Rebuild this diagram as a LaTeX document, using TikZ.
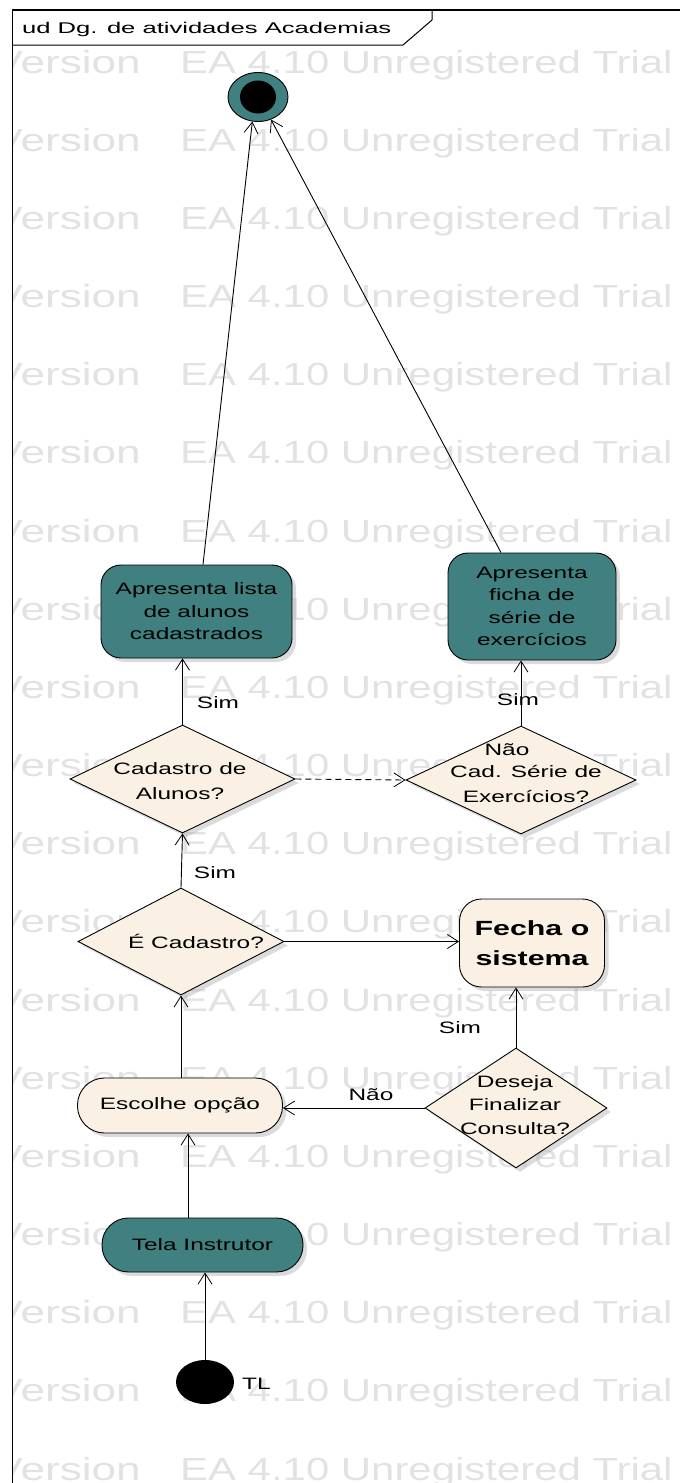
\documentclass[tikz,border=0pt]{standalone}
\usepackage{fontspec}
\usetikzlibrary{shapes.geometric,arrows.meta,shadows,calc}
\newfontfamily\eafont[FakeStretch=1.48]{Liberation Sans}
\newfontfamily\titlefont[FakeStretch=1.65]{Liberation Sans}
\newfontfamily\wmfontA[FakeStretch=1.38]{Liberation Sans}
\newfontfamily\wmfontB[FakeStretch=1.31]{Liberation Sans}
\definecolor{eateal}{RGB}{64,128,128}
\definecolor{eabeige}{RGB}{250,240,228}
\definecolor{wmgray}{RGB}{226,226,226}
\tikzset{
  txt/.style={font={\eafont\fontsize{16.5}{22.5}\selectfont}, align=center, inner sep=0pt},
  shad/.style={drop shadow={shadow xshift=4pt, shadow yshift=-4pt, fill=black!28}},
  act/.style={draw=black, line width=0.9pt, rounded corners=20pt, inner sep=0pt, shad, txt},
  tealact/.style={act, fill=eateal},
  beigeact/.style={act, fill=eabeige},
  decis/.style={diamond, draw=black, line width=0.9pt, fill=eabeige, inner sep=0pt, shad},
  flow/.style={draw=black, line width=0.9pt, -{Straight Barb[length=11pt,width=14pt,line width=0.8pt]}},
  wmA/.style={font={\wmfontA\fontsize{32}{32}\selectfont}, text=wmgray, inner sep=0pt},
  wmB/.style={font={\wmfontB\fontsize{32}{32}\selectfont}, text=wmgray, inner sep=0pt}
}
\begin{document}
\begin{tikzpicture}[x=1pt,y=-1pt]
\useasboundingbox (0,0) rectangle (680,1483);
% watermark
\begin{scope}
\clip (13.5,10.8) rectangle (680,1483);
\foreach \k in {0,...,18} {
  \node[wmA, anchor=base east] (wva\k) at (141,{73+78.17*\k}) {Version};
  \node[wmB, anchor=base west] (wvb\k) at (180,{73+78.17*\k}) {EA 4.10 Unregistered Trial};
}
\end{scope}
% frame
\draw[line width=1.5pt] (12.5,1483) -- (12.5,10) -- (680,10);
\draw[line width=1pt] (12.5,45) -- (403,45) -- (432,20) -- (432,10);
\node[anchor=base west, inner sep=0pt, font={\titlefont\fontsize{15.5}{18}\selectfont}] (title) at (22,33) {ud Dg. de atividades Academias};
% final node
\node[ellipse, draw=black, line width=0.9pt, fill=eateal, minimum width=60pt, minimum height=49pt, inner sep=0pt] (fin) at (258,97) {};
\node[ellipse, fill=black, minimum width=36pt, minimum height=33pt, inner sep=0pt] (fininner) at (fin.center) {};
% activities
\node[tealact, minimum width=191pt, minimum height=93pt] (b1) at (196.5,611.5) {Apresenta lista\\de alunos\\cadastrados};
\node[tealact, minimum width=168pt, minimum height=107pt] (b2) at (532,606.5) {Apresenta\\ficha de\\série de\\exercícios};
\node[beigeact, minimum width=145pt, minimum height=88pt, rounded corners=22pt, font={\eafont\bfseries\fontsize{20.5}{30}\selectfont}] (f) at (532,943) {Fecha o\\sistema};
\node[beigeact, minimum width=205pt, minimum height=55pt, rounded corners=27pt] (e) at (180,1105.5) {Escolhe opção};
\node[tealact, minimum width=201pt, minimum height=54pt, rounded corners=26.5pt] (t) at (202.5,1245) {Tela Instrutor};
% decisions
\node[decis, minimum width=225pt, minimum height=108pt] (d1) at (182.5,779) {};
\node[txt] (d1t) at (180,781.5) {Cadastro de\\[2.5pt]Alunos?};
\node[decis, minimum width=230pt, minimum height=108pt] (d2) at (521,780) {};
\node[txt] (d2t) at (526,783.5) {Cad. Série de\\[2.5pt]Exercícios?};
\node[decis, minimum width=206pt, minimum height=107pt] (d3) at (181,941.5) {};
\node[txt] (d3t) at (196,941) {É Cadastro?};
\node[decis, minimum width=182pt, minimum height=120pt] (d4) at (516,1108) {};
\node[txt] (d4t) at (515,1105) {Deseja\\[1pt]Finalizar\\[1pt]Consulta?};
% initial
\node[ellipse, fill=black, minimum width=58pt, minimum height=44pt, inner sep=0pt] (i) at (205,1382) {};
\node[txt, anchor=west] (tl) at (242,1384) {TL};
% connectors
\draw[flow] ($(b1.north)+(6.5,0)$) -- (fin.-103);
\draw[flow] ($(b2.north)+(-31,0)$) -- (fin.-60);
\draw[flow] (d1.north) -- (d1.north |- b1.south);
\draw[flow] (d2.north) -- (d2.north |- b2.south);
\draw[flow, dash pattern=on 6pt off 4pt] (d1.east) -- (d2.west);
\draw[flow] (d3.north) -- (d1.south);
\draw[flow] (d3.east) -- (d3.east -| f.west);
\draw[flow] (d4.north) -- (d4.north |- f.south);
\draw[flow] (d4.west) -- (d4.west -| e.east);
\draw[flow] (e.north -| d3.south) -- (d3.south);
\coordinate (tn) at ($(t.north)+(-14.5,0)$);
\draw[flow] (tn) -- (tn |- e.south);
\draw[flow] (i.north) -- (i.north |- t.south);
% guard labels
\node[txt] (s1) at (218,703) {Sim};
\node[txt] (s2) at (518,700) {Sim};
\node[txt] (nao1) at (507,750) {Não};
\node[txt] (s3) at (215,873) {Sim};
\node[txt] (s4) at (460,1028) {Sim};
\node[txt] (nao2) at (371,1095) {Não};
\end{tikzpicture}
\end{document}
